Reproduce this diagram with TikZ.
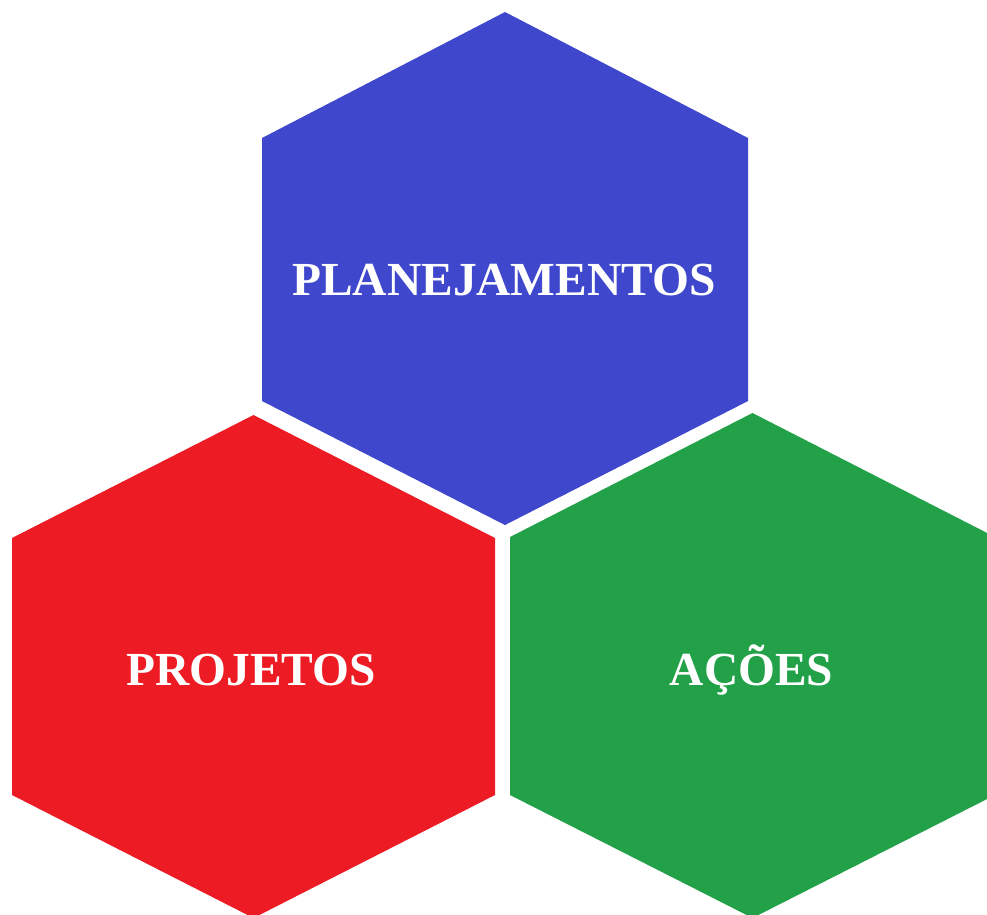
\documentclass[tikz,border=0pt]{standalone}
\usepackage{fontspec}
\setmainfont{Liberation Serif}
\definecolor{planblue}{RGB}{63,72,204}
\definecolor{projred}{RGB}{237,28,36}
\definecolor{acaogreen}{RGB}{34,161,73}
\tikzset{
  hexlabel/.style={text=white, anchor=base, inner sep=0pt,
    font=\fontsize{27}{27}\selectfont\bfseries}
}
\begin{document}
\begin{tikzpicture}[x=0.02cm,y=-0.02cm]
        \useasboundingbox (0,0) rectangle (987,914);
        % planejamentos
        \fill [planblue] (505,12)--(748,138)--(748,401)--(505,525)--(262,401)--(262,138)--cycle;
        % projetos
        \fill [projred] (253.5,415)--(495,538)--(495,795)--(253.5,918)--(12,795)--(12,538)--cycle;
        % acoes
        \fill [acaogreen] (752.5,413)--(995,537)--(995,795)--(752.5,918)--(510,795)--(510,537)--cycle;
        \node [hexlabel] (plan) at (504,295) {PLANEJAMENTOS};
        \node [hexlabel] (proj) at (251,685) {PROJETOS};
        \node [hexlabel] (acao) at (751.5,685) {AÇÕES};
      \end{tikzpicture}
\end{document}
